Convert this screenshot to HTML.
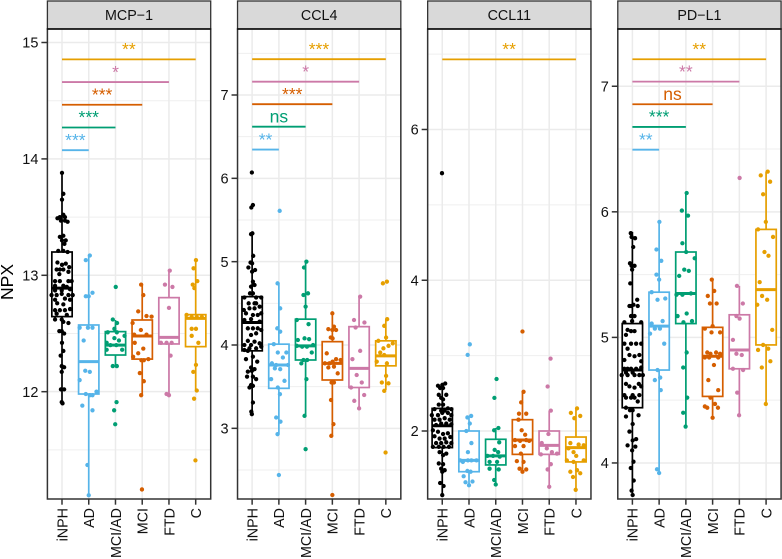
<!DOCTYPE html>
<html>
<head>
<meta charset="utf-8">
<title>NPX boxplots by diagnosis</title>
<style>
html,body{margin:0;padding:0;background:#fff;}
svg{display:block;}
text{font-family:"Liberation Sans",Arial,sans-serif;}
</style>
</head>
<body>
<svg id="chart" width="782" height="559" viewBox="0 0 782 559" xmlns="http://www.w3.org/2000/svg"></svg>
<script>
const categories = ['iNPH','AD','MCI/AD','MCI','FTD','C'];
const groupColors = ['#000000','#56B4E9','#009E73','#D55E00','#CC79A7','#E69F00'];
const panelTitles = ['MCP\u22121','CCL4','CCL11','PD\u2212L1'];

/* ---------- MCP-1 ---------- */
const mcp1Ticks = [12,13,14,15];
const mcp1Minor = [11.5,12.5,13.5,14.5];
const mcp1Domain = [11.078,15.116];
const mcp1Q1 = [12.645,11.98,12.315,12.28,12.41,12.387];
const mcp1Median = [12.89,12.258,12.40,12.478,12.467,12.63];
const mcp1Q3 = [13.20,12.573,12.516,12.616,12.808,12.662];
const mcp1WhiskerLow = [11.905,11.11,12.22,11.963,11.97,12.01];
const mcp1WhiskerHigh = [13.88,13.17,12.616,12.917,13.037,13.135];
const mcp1BracketEnd = [1,2,3,4,5];
const mcp1BracketValue = [14.075,14.27,14.465,14.66,14.855];
const mcp1BracketLabel = ['***','***','***','*','**'];
const mcp1Inph = [13.88,13.70,13.65,13.49,13.50,13.52,13.50,13.47,13.47,13.46,13.33,13.34,13.30,13.30,13.27,13.21,13.21,13.20,13.11,13.09,13.10,13.07,13.05,13.05,13.05,13.03,13.01,12.95,12.95,12.95,12.95,12.91,12.91,12.90,12.87,12.87,12.88,12.83,12.83,12.84,12.83,12.83,12.79,12.80,12.79,12.76,12.75,12.70,12.70,12.70,12.71,12.67,12.66,12.62,12.62,12.60,12.59,12.52,12.52,12.50,12.42,12.35,12.31,12.22,12.21,12.17,12.02,12.02,11.91,11.90];
const mcp1InphJitter = [0,.05,0,-.17,-.08,.05,.11,-.04,.11,.21,-.08,.05,.14,0,.09,-.14,.05,.21,-.17,0,.14,.27,-.2,-.08,.05,.24,-.1,-.26,-.08,.24,.36,-.26,.05,.18,-.26,-.01,.3,-.39,-.2,-.01,.24,.4,-.26,.11,.3,-.18,.05,-.26,-.08,.11,.3,-.2,.18,-.26,-.01,.05,.24,-.01,-.1,.08,0,.05,-.05,-.01,.08,-.01,-.04,.08,-.01,.02];
const mcp1Ad = [13.17,13.13,12.82,12.82,12.85,12.55,12.55,12.55,12.44,12.18,12.17,12.10,11.98,11.97,11.97,12.00,11.88,11.84,11.37,11.11];
const mcp1AdJitter = [.04,-.11,-.11,0,.14,-.03,-.34,.14,-.19,-.13,.04,-.34,-.11,.04,.14,.29,-.24,.14,-.05,0];
const mcp1MciAd = [12.90,12.62,12.59,12.54,12.51,12.51,12.46,12.42,12.40,12.44,12.48,12.40,12.36,12.36,12.22,12.22,11.91,11.84,11.72];
const mcp1MciAdJitter = [.01,-.1,.06,-.04,-.29,.05,-.04,-.33,-.19,.13,.34,.03,-.33,.25,-.1,.05,.04,-.05,-.01];
const mcp1Mci = [12.92,12.83,12.69,12.65,12.645,12.59,12.53,12.49,12.49,12.42,12.37,12.33,12.30,12.27,12.28,12.27,12.16,12.09,11.97,11.16];
const mcp1MciJitter = [-.04,.04,-.15,.16,.35,-.36,-.05,.16,-.3,-.28,.04,-.15,-.34,-.03,.23,.06,-.09,.06,-.04,-.01];
const mcp1Ftd = [13.04,12.92,12.90,12.72,12.42,12.42,12.42,12.31,11.98,11.97];
const mcp1FtdJitter = [.03,-.15,.13,0,-.3,-.09,.1,.06,-.09,0];
const mcp1C = [13.13,13.06,12.95,12.92,12.89,12.66,12.64,12.64,12.64,12.54,12.54,12.48,12.42,12.23,12.17,12.01,11.94,11.41];
const mcp1CJitter = [.01,-.08,.06,-.11,-.05,-.34,-.15,.04,.23,-.15,.01,-.15,.1,.01,-.09,.04,-.06,-.01];

/* ---------- CCL4 ---------- */
const ccl4Ticks = [3,4,5,6,7];
const ccl4Minor = [2.5,3.5,4.5,5.5,6.5,7.5];
const ccl4Domain = [2.152,7.792];
const ccl4Q1 = [3.93,3.48,3.82,3.58,3.49,3.75];
const ccl4Median = [4.27,3.76,3.99,3.78,3.72,3.87];
const ccl4Q3 = [4.58,4.01,4.31,4.04,4.22,4.05];
const ccl4WhiskerLow = [3.18,2.93,3.15,2.91,3.24,3.46];
const ccl4WhiskerHigh = [5.34,4.75,5.0,4.38,4.58,4.31];
const ccl4BracketEnd = [1,2,3,4,5];
const ccl4BracketValue = [6.345,6.62,6.89,7.16,7.43];
const ccl4BracketLabel = ['**','ns','***','*','***'];
const ccl4Inph = [6.07,5.68,5.65,5.33,5.34,5.07,4.99,4.98,4.93,4.90,4.88,4.76,4.70,4.72,4.62,4.62,4.57,4.57,4.57,4.50,4.50,4.50,4.42,4.44,4.44,4.46,4.38,4.36,4.36,4.38,4.30,4.31,4.28,4.20,4.20,4.20,4.18,4.12,4.14,4.05,4.04,4.02,4.00,4.00,3.96,3.96,3.98,3.94,3.93,3.86,3.83,3.80,3.73,3.71,3.68,3.69,3.62,3.62,3.59,3.52,3.49,3.51,3.31,3.20,3.17];
const ccl4InphJitter = [-.01,.03,-.03,-.04,.01,.04,-.06,0,-.14,.11,0,.03,-.04,.09,-.08,.03,.15,.34,-.29,-.13,.09,.15,-.31,-.1,.09,.28,-.23,.03,.21,.34,-.29,-.04,.28,-.16,.03,.21,.34,-.04,.15,-.16,.09,.28,-.29,-.04,-.1,.15,.34,-.29,-.16,.03,-.23,.19,-.04,.09,-.16,-.01,.03,-.19,.15,-.04,-.1,.03,.03,-.03,-.01];
const ccl4Ad = [5.61,4.74,4.44,4.20,4.16,4.01,3.91,3.91,3.85,3.78,3.76,3.76,3.72,3.71,3.59,3.57,3.49,3.41,3.13,3.08,2.93,2.44];
const ccl4AdJitter = [.03,-.05,.05,-.06,.05,-.19,-.04,.28,.15,-.26,-.1,.34,-.15,.05,-.29,.21,-.04,.04,-.1,.06,-.05,0];
const ccl4MciAd = [5.00,4.93,4.62,4.60,4.46,4.30,4.25,4.06,4.08,4.07,3.99,3.98,3.98,4.00,3.91,3.82,3.82,3.78,3.59,3.15,2.75];
const ccl4MciAdJitter = [.03,-.06,.09,-.08,0,-.33,.11,-.29,-.04,.13,-.33,-.13,.05,.28,.23,-.08,.06,-.16,.03,-.04,0];
const ccl4Mci = [4.38,4.22,4.19,4.18,4.18,4.09,4.08,3.90,3.78,3.78,3.80,3.83,3.82,3.74,3.73,3.66,3.55,3.55,3.34,3.05,2.91,2.20];
const ccl4MciJitter = [0,.06,-.15,0,.14,-.06,.01,-.21,-.28,-.11,.01,.14,.31,.06,-.15,.2,-.03,.06,-.05,.04,-.04,0];
const ccl4Ftd = [4.58,4.30,4.27,4.21,3.93,3.83,3.64,3.49,3.55,3.40,3.33,3.24];
const ccl4FtdJitter = [.04,-.19,.2,-.13,.04,-.25,-.09,-.3,.1,.19,-.18,0];
const ccl4C = [4.74,4.76,4.31,4.23,4.09,4.05,3.99,4.02,3.96,3.91,3.88,3.80,3.78,3.63,3.55,3.54,3.45,2.71];
const ccl4CJitter = [-.11,.04,.05,-.06,.01,-.28,.1,.26,-.09,-.21,-.06,-.34,.04,.01,-.15,.1,-.06,-.01];

/* ---------- CCL11 ---------- */
const ccl11Ticks = [2,4,6];
const ccl11Minor = [3,5,7];
const ccl11Domain = [1.098,7.333];
const ccl11Q1 = [1.78,1.46,1.55,1.69,1.69,1.59];
const ccl11Median = [2.07,1.61,1.67,1.88,1.81,1.78];
const ccl11Q3 = [2.30,2.0,1.89,2.15,2.0,1.92];
const ccl11WhiskerLow = [1.15,1.28,1.29,1.46,1.26,1.22];
const ccl11WhiskerHigh = [2.64,2.2,2.04,2.52,2.27,2.3];
const ccl11BracketEnd = [5];
const ccl11BracketValue = [6.93];
const ccl11BracketLabel = ['**'];
const ccl11Inph = [5.42,2.63,2.61,2.60,2.57,2.57,2.48,2.48,2.44,2.42,2.35,2.35,2.30,2.29,2.29,2.27,2.27,2.21,2.21,2.24,2.24,2.21,2.15,2.15,2.17,2.15,2.08,2.10,2.10,2.09,2.01,1.99,1.96,1.97,1.93,1.90,1.90,1.92,1.84,1.84,1.85,1.84,1.79,1.79,1.79,1.79,1.72,1.70,1.68,1.57,1.56,1.50,1.48,1.46,1.31,1.27,1.15];
const ccl11InphJitter = [-.01,.11,0,-.16,-.08,.03,-.13,.15,-.04,.03,-.13,.03,.21,-.29,.34,-.04,.09,-.39,-.16,0,.21,.34,-.29,-.1,.09,.28,-.23,-.04,.15,.34,-.35,-.16,.03,.21,-.29,-.1,.09,.3,-.23,-.04,.15,.34,-.35,-.13,.05,.25,-.1,.15,.03,-.13,.03,-.04,.09,0,-.08,.05,0];
const ccl11Ad = [3.15,3.01,2.18,2.20,2.10,2.00,1.84,1.72,1.61,1.59,1.61,1.61,1.61,1.47,1.46,1.40,1.32,1.33,1.28];
const ccl11AdJitter = [.03,-.05,-.06,.08,.03,-.1,.09,-.04,-.33,-.23,-.04,.09,.28,-.06,.06,-.2,-.13,.13,0];
const ccl11MciAd = [2.69,2.44,2.04,2.01,1.85,1.75,1.72,1.67,1.67,1.66,1.59,1.59,1.50,1.49,1.35,1.29];
const ccl11MciAdJitter = [.03,-.05,.1,-.06,.13,-.04,.09,-.31,-.1,.15,-.23,.05,-.23,.11,-.06,0];
const ccl11Mci = [3.32,2.52,2.38,2.23,2.23,2.15,2.01,1.95,1.88,1.87,1.88,1.80,1.80,1.87,1.60,1.70,1.59,1.50,1.49,1.46];
const ccl11MciJitter = [0,.04,-.05,-.13,.14,-.15,-.03,.1,-.28,-.09,.14,-.28,.04,.25,-.21,-.06,.04,-.11,.14,0];
const ccl11Ftd = [2.96,2.59,2.27,1.96,1.84,1.77,1.72,1.69,1.70,1.56,1.49,1.26];
const ccl11FtdJitter = [.05,-.06,.06,-.03,-.28,-.09,.1,-.31,.29,.06,-.06,0];
const ccl11C = [2.30,2.24,2.20,2.17,1.84,1.82,1.81,1.77,1.72,1.67,1.61,1.59,1.61,1.46,1.48,1.44,1.39,1.22];
const ccl11CJitter = [.04,-.19,.16,-.06,-.21,.1,.29,-.28,-.09,.01,-.34,-.09,.29,-.21,.04,.16,-.11,-.01];

/* ---------- PD-L1 ---------- */
const pdl1Ticks = [4,5,6,7];
const pdl1Minor = [4.5,5.5,6.5];
const pdl1Domain = [3.713,7.456];
const pdl1Q1 = [4.44,4.74,5.11,4.53,4.75,4.94];
const pdl1Median = [4.74,5.09,5.35,4.85,4.90,5.38];
const pdl1Q3 = [5.11,5.36,5.68,5.08,5.18,5.86];
const pdl1WhiskerLow = [3.745,3.92,4.29,4.36,4.38,4.47];
const pdl1WhiskerHigh = [5.84,5.92,6.15,5.46,5.41,6.32];
const pdl1BracketEnd = [1,2,3,4,5];
const pdl1BracketValue = [6.495,6.676,6.857,7.037,7.215];
const pdl1BracketLabel = ['**','***','ns','**','**'];
const pdl1Inph = [5.83,5.80,5.79,5.72,5.59,5.57,5.57,5.54,5.43,5.25,5.26,5.30,5.25,5.25,5.17,5.17,5.13,5.12,5.12,5.06,5.05,5.05,5.02,4.95,4.95,4.95,4.95,4.91,4.86,4.85,4.82,4.86,4.81,4.75,4.75,4.75,4.75,4.76,4.72,4.72,4.70,4.70,4.70,4.70,4.70,4.63,4.61,4.63,4.61,4.60,4.54,4.54,4.54,4.52,4.52,4.52,4.49,4.44,4.42,4.42,4.37,4.38,4.31,4.25,4.19,4.18,4.13,4.14,4.10,4.01,3.96,3.86,3.78,3.745];
const pdl1InphJitter = [-.06,-.03,.1,.03,-.09,-.03,.08,-.01,-.08,-.11,.04,.18,-.05,.2,-.05,.08,-.01,.33,-.3,-.18,-.05,.08,-.24,-.3,-.05,.14,.33,-.18,-.11,.08,-.3,.26,.33,-.3,-.05,-.18,.14,.33,-.24,.01,-.4,-.18,.08,.26,.39,-.24,-.11,.24,.33,.08,-.3,.01,.26,-.24,-.05,.08,.2,-.24,.01,-.09,-.24,.23,.01,-.11,.14,.01,.11,-.18,-.01,.04,-.06,.05,-.03,.01];
const pdl1Ad = [5.92,5.70,5.61,5.50,5.46,5.36,5.30,5.31,5.11,5.13,5.03,5.07,5.07,4.95,4.74,4.66,4.68,4.58,3.95,3.92];
const pdl1AdJitter = [.01,-.1,.08,-.1,0,-.28,-.06,.23,-.28,.13,-.34,-.16,.03,.19,-.06,-.16,.04,.06,-.08,0];
const pdl1MciAd = [6.15,6.01,5.97,5.75,5.68,5.63,5.54,5.53,5.49,5.34,5.34,5.35,5.19,5.17,5.13,5.12,4.88,4.76,4.52,4.40,4.29];
const pdl1MciAdJitter = [.03,-.15,.08,-.13,.01,.33,-.06,.11,-.25,-.35,-.13,.19,.03,-.31,.23,-.09,.03,-.1,.05,-.1,-.01];
const pdl1Mci = [5.46,5.37,5.33,5.27,5.27,5.07,5.09,5.04,5.04,4.88,4.87,4.88,4.87,4.84,4.84,4.78,4.84,4.66,4.58,4.52,4.45,4.44,4.47,4.44,4.36];
const pdl1MciJitter = [-.03,.06,-.18,-.1,.15,-.29,0,-.04,.28,-.2,-.08,.13,.28,-.29,-.13,.05,.21,-.16,.21,-.08,-.29,-.2,.09,.2,0];
const pdl1Ftd = [6.27,5.41,5.27,5.17,5.15,4.98,4.87,4.86,4.75,4.74,4.56,4.38];
const pdl1FtdJitter = [.01,-.09,.13,-.11,.01,-.24,-.11,.09,-.24,.14,-.08,-.01];
const pdl1C = [6.32,6.29,6.24,6.14,5.92,5.86,5.80,5.68,5.65,5.44,5.33,5.30,5.26,5.06,4.94,4.90,4.91,4.81,4.76,4.47];
const pdl1CJitter = [.06,-.2,.15,-.11,-.01,-.3,.26,-.06,.09,-.24,-.15,.04,-.33,.23,-.11,-.3,.08,.16,-.16,-.01];

/* ---------- wiring ---------- */
const panelSeries = [
  {ticks:mcp1Ticks,minor:mcp1Minor,domain:mcp1Domain,q1:mcp1Q1,med:mcp1Median,q3:mcp1Q3,lo:mcp1WhiskerLow,hi:mcp1WhiskerHigh,bEnd:mcp1BracketEnd,bVal:mcp1BracketValue,bLab:mcp1BracketLabel,
   values:[mcp1Inph,mcp1Ad,mcp1MciAd,mcp1Mci,mcp1Ftd,mcp1C],jitter:[mcp1InphJitter,mcp1AdJitter,mcp1MciAdJitter,mcp1MciJitter,mcp1FtdJitter,mcp1CJitter]},
  {ticks:ccl4Ticks,minor:ccl4Minor,domain:ccl4Domain,q1:ccl4Q1,med:ccl4Median,q3:ccl4Q3,lo:ccl4WhiskerLow,hi:ccl4WhiskerHigh,bEnd:ccl4BracketEnd,bVal:ccl4BracketValue,bLab:ccl4BracketLabel,
   values:[ccl4Inph,ccl4Ad,ccl4MciAd,ccl4Mci,ccl4Ftd,ccl4C],jitter:[ccl4InphJitter,ccl4AdJitter,ccl4MciAdJitter,ccl4MciJitter,ccl4FtdJitter,ccl4CJitter]},
  {ticks:ccl11Ticks,minor:ccl11Minor,domain:ccl11Domain,q1:ccl11Q1,med:ccl11Median,q3:ccl11Q3,lo:ccl11WhiskerLow,hi:ccl11WhiskerHigh,bEnd:ccl11BracketEnd,bVal:ccl11BracketValue,bLab:ccl11BracketLabel,
   values:[ccl11Inph,ccl11Ad,ccl11MciAd,ccl11Mci,ccl11Ftd,ccl11C],jitter:[ccl11InphJitter,ccl11AdJitter,ccl11MciAdJitter,ccl11MciJitter,ccl11FtdJitter,ccl11CJitter]},
  {ticks:pdl1Ticks,minor:pdl1Minor,domain:pdl1Domain,q1:pdl1Q1,med:pdl1Median,q3:pdl1Q3,lo:pdl1WhiskerLow,hi:pdl1WhiskerHigh,bEnd:pdl1BracketEnd,bVal:pdl1BracketValue,bLab:pdl1BracketLabel,
   values:[pdl1Inph,pdl1Ad,pdl1MciAd,pdl1Mci,pdl1Ftd,pdl1C],jitter:[pdl1InphJitter,pdl1AdJitter,pdl1MciAdJitter,pdl1MciJitter,pdl1FtdJitter,pdl1CJitter]}
];

const NS = 'http://www.w3.org/2000/svg';
const svg = document.getElementById('chart');
const PANEL_TOP = 29, PANEL_BOTTOM = 499, PANEL_W = 163.3, STRIP_TOP = 1;
const PANEL_STEP = 190.13, FIRST_LEFT = 47.4, CAT_STEP = 26.74, CAT_OFFSET = 0.546, BOX_HALF = 0.38;

function add(parent, tag, attrs, txt) {
  const node = document.createElementNS(NS, tag);
  for (const k in attrs) node.setAttribute(k, attrs[k]);
  if (txt !== undefined) node.textContent = txt;
  parent.appendChild(node);
  return node;
}
function slug(s) { return s.toLowerCase().replace(/[^a-z0-9]+/g, '-'); }

const bg = add(svg, 'rect', {x:0,y:0,width:782,height:559,fill:'#fff'});



const yTitle = add(svg, 'text', {x:0,y:0,transform:'translate(13,282) rotate(-90)','text-anchor':'middle','font-size':17.5,fill:'#000'}, 'NPX');



panelSeries.forEach(function (p, pi) {
  const left = FIRST_LEFT + pi * PANEL_STEP;
  const title = panelTitles[pi];
  const pslug = slug(title);
  const xScale = function (c) { return left + (c + CAT_OFFSET) * CAT_STEP; };
  const yScale = function (v) { return PANEL_BOTTOM - (v - p.domain[0]) / (p.domain[1] - p.domain[0]) * (PANEL_BOTTOM - PANEL_TOP); };

  const g = add(svg, 'g', {});
  
  

  const strip = add(g, 'rect', {x:left,y:STRIP_TOP,width:PANEL_W,height:PANEL_TOP-STRIP_TOP,fill:'#d9d9d9',stroke:'#333',"stroke-width":1.3});
  
  
  const stripLabel = add(g, 'text', {x:left+PANEL_W/2,y:20,'text-anchor':'middle','font-size':14.3,fill:'#111'}, title);
  
  

  const panelBg = add(g, 'rect', {x:left,y:PANEL_TOP,width:PANEL_W,height:PANEL_BOTTOM-PANEL_TOP,fill:'#fff'});
  
  

  p.minor.forEach(function (v) {
    const l = add(g, 'line', {x1:left,x2:left+PANEL_W,y1:yScale(v),y2:yScale(v),stroke:'#efefef','stroke-width':1});
    
    
  });
  p.ticks.forEach(function (v) {
    const l = add(g, 'line', {x1:left,x2:left+PANEL_W,y1:yScale(v),y2:yScale(v),stroke:'#ebebeb','stroke-width':1.5});
    
    
  });
  categories.forEach(function (c, ci) {
    const l = add(g, 'line', {x1:xScale(ci),x2:xScale(ci),y1:PANEL_TOP,y2:PANEL_BOTTOM,stroke:'#ebebeb','stroke-width':1.5});
    
    
  });

  categories.forEach(function (c, ci) {
    const col = groupColors[ci];
    const x = xScale(ci);
    const box = add(g, 'g', {fill:'none',stroke:col,'stroke-width':1.7});
    
    
    const wh = add(box, 'line', {x1:x,x2:x,y1:yScale(p.q3[ci]),y2:yScale(p.hi[ci])});
    
    
    const wl = add(box, 'line', {x1:x,x2:x,y1:yScale(p.q1[ci]),y2:yScale(p.lo[ci])});
    
    
    const rect = add(box, 'rect', {x:x-BOX_HALF*CAT_STEP,width:2*BOX_HALF*CAT_STEP,y:yScale(p.q3[ci]),height:yScale(p.q1[ci])-yScale(p.q3[ci]),fill:'#fff'});
    
    
    const med = add(box, 'line', {x1:x-BOX_HALF*CAT_STEP,x2:x+BOX_HALF*CAT_STEP,y1:yScale(p.med[ci]),y2:yScale(p.med[ci]),'stroke-width':3});
    
    
  });

  categories.forEach(function (c, ci) {
    const vals = p.values[ci];
    const jit = p.jitter[ci];
    const pts = add(g, 'g', {fill:groupColors[ci]});
    
    
    vals.forEach(function (v, i) {
      const dot = add(pts, 'circle', {cx:xScale(ci + (jit[i] || 0)),cy:yScale(v),r:2.15});
      
      
    });
  });

  p.bEnd.forEach(function (end, i) {
    const col = groupColors[end];
    const y = yScale(p.bVal[i]);
    const br = add(g, 'line', {x1:xScale(0),x2:xScale(end),y1:y,y2:y,stroke:col,'stroke-width':1.8});
    
    
    const lab = add(g, 'text', {x:(xScale(0)+xScale(end))/2,y:y-4.3,'text-anchor':'middle','font-size':17.5,fill:col}, p.bLab[i]);
    
    
  });

  const border = add(g, 'rect', {x:left,y:PANEL_TOP,width:PANEL_W,height:PANEL_BOTTOM-PANEL_TOP,fill:'none',stroke:'#333','stroke-width':1.5});
  
  
  const stripRule = add(g, 'line', {x1:left-0.5,x2:left+PANEL_W+0.5,y1:PANEL_TOP,y2:PANEL_TOP,stroke:'#111','stroke-width':1.6});
  
  

  p.ticks.forEach(function (v) {
    const y = yScale(v);
    const t = add(g, 'line', {x1:left-6,x2:left,y1:y,y2:y,stroke:'#333','stroke-width':1.5});
    
    
    const tl = add(g, 'text', {x:left-9,y:y+5.2,'text-anchor':'end','font-size':14.5,fill:'#111'}, String(v));
    
    
  });

  categories.forEach(function (c, ci) {
    const x = xScale(ci);
    const t = add(g, 'line', {x1:x,x2:x,y1:PANEL_BOTTOM,y2:PANEL_BOTTOM+5.7,stroke:'#333','stroke-width':1.5});
    
    
    const tl = add(g, 'text', {x:0,y:0,transform:'translate(' + (x+5.3) + ',508) rotate(-90)','text-anchor':'end','font-size':14.3,fill:'#111'}, c);
    
    
  });
});
</script>
</body>
</html>
